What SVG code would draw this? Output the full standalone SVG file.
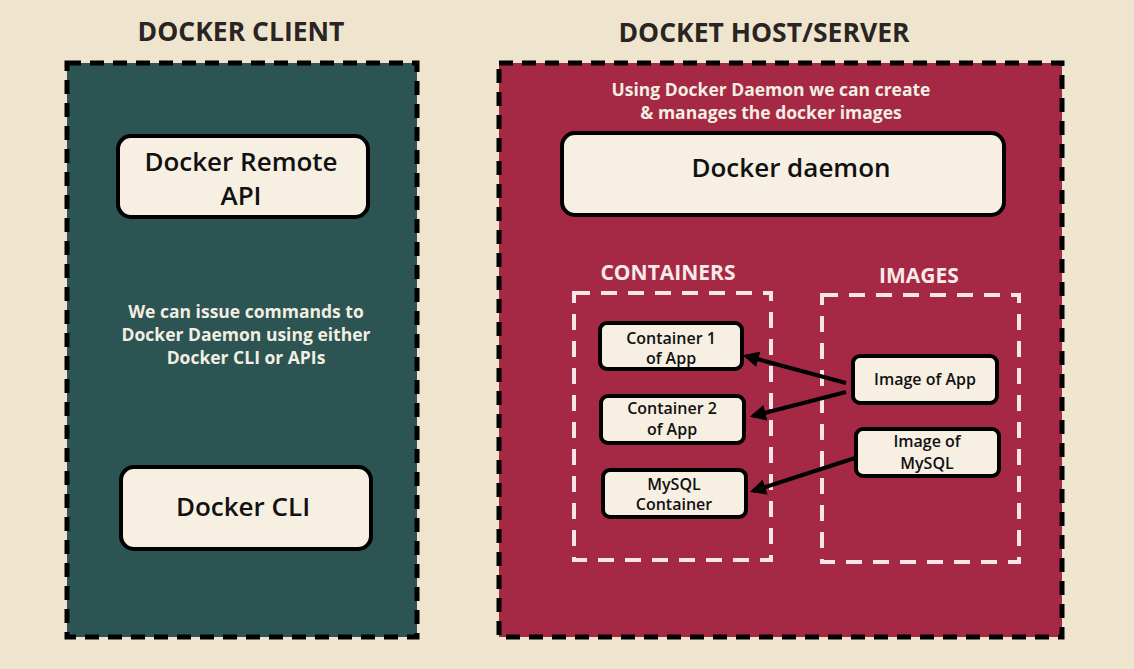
<svg xmlns="http://www.w3.org/2000/svg" width="1134" height="669" viewBox="0 0 1134 669">
<style>
.title{font-family:"Open Sans","Liberation Sans",sans-serif;font-weight:700;font-size:26.5px;fill:#2a2522;text-anchor:middle}
.panel{stroke:#000;stroke-width:5;stroke-dasharray:14 9}
.box{fill:#f6efe2;stroke:#000;stroke-width:4}
.big{font-family:"Open Sans","Liberation Sans",sans-serif;font-weight:600;font-size:26px;fill:#111;text-anchor:middle}
.small{font-family:"Open Sans","Liberation Sans",sans-serif;font-weight:600;font-size:16px;fill:#111;text-anchor:middle}
.note{font-family:"Open Sans","Liberation Sans",sans-serif;font-weight:700;font-size:17.5px;fill:#f3eee2;text-anchor:middle}
.sub{font-family:"Open Sans","Liberation Sans",sans-serif;font-weight:700;font-size:21px;fill:#f8e9ea;text-anchor:middle}
.group{fill:none;stroke:#f8e6e6;stroke-width:4;stroke-dasharray:16 11}
.arrow{stroke:#000;stroke-width:4;fill:none;marker-end:url(#ah)}
</style>
<defs>
<marker id="ah" viewBox="0 0 10 10" refX="8" refY="5" markerWidth="4" markerHeight="4" orient="auto" markerUnits="strokeWidth">
<path d="M0,0 L10,5 L0,10 z" fill="#000"/>
</marker>
</defs>
<rect x="0" y="0" width="1134" height="669" fill="#efe5cf"/>

<g id="client-panel">
<text class="title" x="241" y="41">DOCKER CLIENT</text>
<rect class="panel" x="67" y="63" width="350" height="574" fill="#2c5452"/>
<text class="note" x="246" y="318">We can issue commands to</text>
<text class="note" x="246" y="341">Docker Daemon using either</text>
<text class="note" x="246" y="364">Docker CLI or APIs</text>
</g>

<g id="remote-api">
<rect class="box" x="118" y="136" width="250" height="81" rx="13"/>
<text class="big" x="241" y="171">Docker Remote</text>
<text class="big" x="241" y="205">API</text>
</g>

<g id="docker-cli">
<rect class="box" x="121" y="467" width="250" height="82" rx="13"/>
<text class="big" x="243" y="516">Docker CLI</text>
</g>

<g id="host-panel">
<text class="title" x="764" y="42">DOCKET HOST/SERVER</text>
<rect class="panel" x="499" y="63" width="563" height="574" fill="#a52944"/>
<text class="note" x="771" y="96">Using Docker Daemon we can create</text>
<text class="note" x="771" y="119">&amp; manages the docker images</text>
</g>

<g id="docker-daemon">
<rect class="box" x="562" y="133" width="442" height="82" rx="13"/>
<text class="big" x="791" y="177">Docker daemon</text>
</g>

<g id="containers-group">
<text class="sub" x="668" y="280">CONTAINERS</text>
<rect class="group" x="574" y="293" width="197" height="267"/>
</g>

<g id="images-group">
<text class="sub" x="919" y="283">IMAGES</text>
<rect class="group" x="822" y="295" width="197" height="267"/>
</g>

<g id="container1">
<rect class="box" x="600" y="323" width="142" height="46" rx="7"/>
<text class="small" x="671" y="344">Container 1</text>
<text class="small" x="671" y="364">of App</text>
</g>

<g id="container2">
<rect class="box" x="601" y="396" width="143" height="47" rx="7"/>
<text class="small" x="672" y="414">Container 2</text>
<text class="small" x="672" y="435">of App</text>
</g>

<g id="mysql-container">
<rect class="box" x="603" y="470" width="143" height="47" rx="7"/>
<text class="small" x="674" y="490">MySQL</text>
<text class="small" x="674" y="510">Container</text>
</g>

<g id="image-app">
<rect class="box" x="853" y="356" width="144" height="47" rx="7"/>
<text class="small" x="925" y="385">Image of App</text>
</g>

<g id="image-mysql">
<rect class="box" x="856" y="429" width="143" height="47" rx="7"/>
<text class="small" x="927" y="447">Image of</text>
<text class="small" x="927" y="469">MySQL</text>
</g>

<g id="connectors">
<line class="arrow" x1="846" y1="383" x2="746" y2="356"/>
<line class="arrow" x1="846" y1="392" x2="753" y2="416"/>
<line class="arrow" x1="855" y1="458" x2="753" y2="491"/>
</g>
</svg>
